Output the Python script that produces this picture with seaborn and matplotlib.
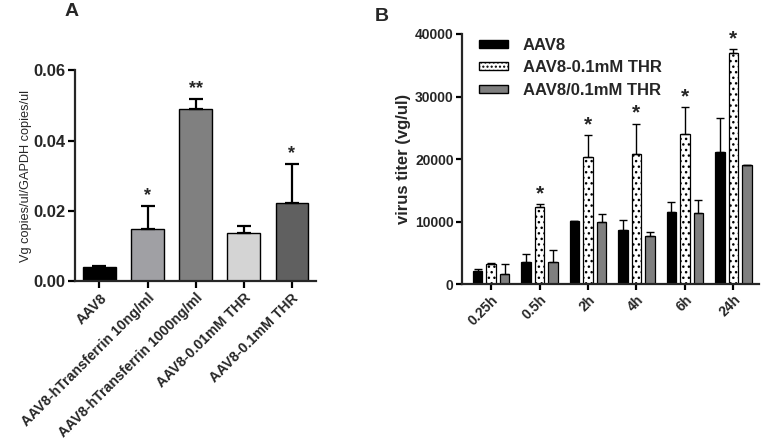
import matplotlib
matplotlib.use("Agg")
import matplotlib.pyplot as plt
import seaborn as sns
import pandas as pd
import numpy as np
from matplotlib.patches import Patch

sns.set_theme(style="ticks")
plt.rcParams['font.family'] = ['Liberation Sans', 'DejaVu Sans']
plt.rcParams['hatch.linewidth'] = 1.0

# ---- Panel A data ----
a_labels = ["AAV8", "AAV8-hTransferrin 10ng/ml", "AAV8-hTransferrin 1000ng/ml",
            "AAV8-0.01mM THR", "AAV8-0.1mM THR"]
a_values = [0.0039, 0.0147, 0.0489, 0.0136, 0.0223]
a_err = [0.0005, 0.0066, 0.0030, 0.0021, 0.0110]
a_colors = ["#000000", "#a0a0a4", "#808080", "#d4d4d4", "#606060"]
a_stars = ["", "*", "**", "", "*"]

# ---- Panel B data ----
b_times = ["0.25h", "0.5h", "2h", "4h", "6h", "24h"]
b_series = ["AAV8", "AAV8-0.1mM THR", "AAV8/0.1mM THR"]
b_aav8 = [2200, 3600, 10100, 8700, 11600, 21200]
b_aav8_err = [300, 1250, 0, 1600, 1500, 5400]
b_thr = [3250, 12300, 20400, 20800, 24000, 36900]
b_thr_err = [80, 480, 3400, 4850, 4300, 650]
b_mix = [1700, 3550, 9950, 7700, 11400, 19050]
b_mix_err = [1550, 1850, 1250, 650, 2100, 0]
b_stars = ["", "*", "*", "*", "*", "*"]

fig = plt.figure(figsize=(7.63, 4.47), dpi=100)

# ================= Panel A =================
axA = fig.add_axes([0.0983, 0.371, 0.316, 0.472])
dfA = pd.DataFrame({"group": a_labels, "value": a_values})
sns.barplot(data=dfA, x="group", y="value", hue="group", palette=a_colors,
            width=0.67, edgecolor="black", linewidth=1.0, legend=False, ax=axA)
xa = np.arange(len(a_labels))
axA.errorbar(xa, a_values, yerr=[np.zeros(len(a_err)), a_err], fmt="none",
             ecolor="black", elinewidth=1.6, capsize=5, capthick=1.6)
for xi, v, e, s in zip(xa, a_values, a_err, a_stars):
    if s:
        axA.text(xi, v + e + 0.0005, s, ha="center", va="bottom",
                 fontsize=13, fontweight="bold")
axA.set_xlim(-0.51, 4.51)
axA.set_ylim(0, 0.06)
axA.set_yticks([0, 0.02, 0.04, 0.06])
axA.set_yticklabels(["0.00", "0.02", "0.04", "0.06"])
axA.set_xlabel("")
axA.set_ylabel("Vg copies/ul/GAPDH copies/ul", fontsize=9.2, labelpad=1)
axA.set_xticks(xa)
axA.set_xticklabels(a_labels, rotation=45, ha="right", rotation_mode="anchor",
                    fontsize=10.2, fontweight="bold")
for lab in axA.get_yticklabels():
    lab.set_fontweight("bold")
    lab.set_fontsize(12)
sns.despine(ax=axA)
for sp in ["left", "bottom"]:
    axA.spines[sp].set_linewidth(1.6)
axA.tick_params(axis="both", width=1.6, length=5, color="black", pad=2)
fig.text(0.094, 0.974, "A", fontsize=14, fontweight="bold", ha="center", va="center")

# ================= Panel B =================
axB = fig.add_axes([0.6055, 0.364, 0.3893, 0.560])
dfB = pd.DataFrame({
    "time": b_times * 3,
    "series": sum([[s] * len(b_times) for s in b_series], []),
    "value": b_aav8 + b_thr + b_mix,
})
b_colors = {"AAV8": "#000000", "AAV8-0.1mM THR": "#ffffff", "AAV8/0.1mM THR": "#7f7f7f"}
sns.barplot(data=dfB, x="time", y="value", hue="series", hue_order=b_series,
            palette=b_colors, width=0.84, gap=0.3, edgecolor="black",
            linewidth=0.9, ax=axB, legend=False)
# apply dotted hatch to the middle series
nt = len(b_times)
for i, patch in enumerate(axB.patches[:3 * nt]):
    if nt <= i < 2 * nt:
        patch.set_hatch("...")
xb = np.arange(nt)
offs = [-0.28, 0.0, 0.28]
for off, vals, errs in zip(offs, [b_aav8, b_thr, b_mix], [b_aav8_err, b_thr_err, b_mix_err]):
    axB.errorbar(xb + off, vals, yerr=[np.zeros(nt), errs], fmt="none",
                 ecolor="black", elinewidth=1.0, capsize=3, capthick=1.0)
for xi, v, e, s in zip(xb, b_thr, b_thr_err, b_stars):
    if s:
        axB.text(xi, v + e + 200, s, ha="center", va="bottom",
                 fontsize=15, fontweight="bold")
axB.set_xlim(-0.6, 5.53)
axB.set_ylim(0, 40000)
axB.set_yticks([0, 10000, 20000, 30000, 40000])
axB.set_xlabel("")
axB.set_ylabel("virus titer (vg/ul)", fontsize=12, fontweight="bold", labelpad=3)
axB.set_xticks(xb)
axB.set_xticklabels(b_times, rotation=45, ha="right", rotation_mode="anchor",
                    fontsize=10, fontweight="bold")
for lab in axB.get_yticklabels():
    lab.set_fontweight("bold")
    lab.set_fontsize(10)
sns.despine(ax=axB)
for sp in ["left", "bottom"]:
    axB.spines[sp].set_linewidth(1.6)
axB.tick_params(axis="both", width=1.6, length=4, color="black", pad=2)

handles = [Patch(facecolor="#000000", edgecolor="black"),
           Patch(facecolor="#ffffff", edgecolor="black", hatch="...."),
           Patch(facecolor="#7f7f7f", edgecolor="black")]
leg = axB.legend(handles, b_series, loc="upper left", bbox_to_anchor=(0.008, 1.045),
                 frameon=False, handlelength=1.7, handleheight=0.4,
                 labelspacing=0.45, handletextpad=0.9,
                 prop={"weight": "bold", "size": 12})
fig.text(0.500, 0.964, "B", fontsize=14, fontweight="bold", ha="center", va="center")

fig.savefig("out.png", dpi=100)
